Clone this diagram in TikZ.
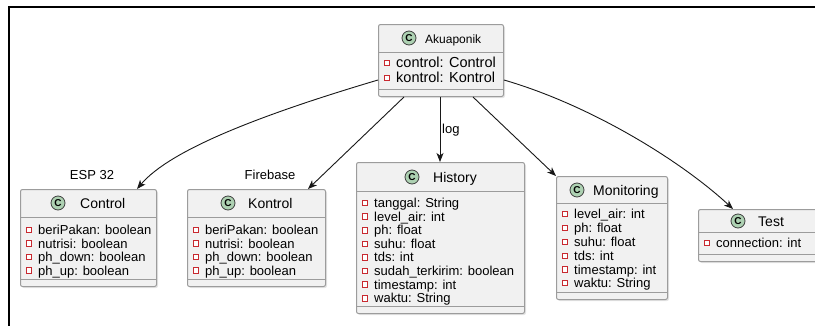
\documentclass[tikz,border=0pt]{standalone}
\usepackage{fontspec}
\setmainfont{Liberation Sans}
\usetikzlibrary{arrows.meta,calc}

\definecolor{boxfill}{HTML}{F1F1F1}
\definecolor{boxline}{HTML}{9C9C9C}
\definecolor{iconfill}{HTML}{ADD1B2}
\definecolor{fieldred}{HTML}{C82930}
\definecolor{linkcol}{HTML}{181818}

\tikzset{
  classbox/.style={draw=boxline, fill=boxfill, line width=1pt, rectangle,
    rounded corners=2pt, inner sep=0pt, anchor=north west},
  boxshadow/.style={fill=black, opacity=0.10, rounded corners=2pt},
  sepline/.style={draw=boxline, line width=1pt},
  cicon/.style={circle, draw=black!75, line width=0.8pt, fill=iconfill,
    minimum size=14pt, inner sep=0pt, font=\fontsize{10}{10}\selectfont\bfseries},
  titletext/.style={inner sep=0pt, font=\fontsize{14}{14}\selectfont, anchor=base west},
  fieldicon/.style={rectangle, draw=fieldred, fill=white, line width=0.9pt,
    minimum size=5.5pt, inner sep=0pt},
  fieldtext/.style={inner sep=0pt, font=\fontsize{13}{13}\selectfont, anchor=base west},
  bigfield/.style={fieldtext, font=\fontsize{14.5}{14.5}\selectfont},
  lbl/.style={inner sep=0pt, font=\fontsize{13}{13}\selectfont},
  link/.style={draw=linkcol, line width=0.9pt,
    -{Stealth[length=9pt,width=7pt,inset=2.5pt]}},
}

% class frame: name, left, top, right, bottom, header rule, bottom rule
\newcommand\umlclass[7]{%
  \fill[boxshadow] (#2+2,#3+2) rectangle (#4+2,#5+2);
  \node[classbox, minimum width={(#4-#2)*1pt}, minimum height={(#5-#3)*1pt}]
    (#1) at (#2,#3) {};
  \draw[sepline] (#2,#6) -- (#4,#6) (#2,#7) -- (#4,#7);
}
% class header: name, icon x, icon y, title x, title, title style
\newcommand\umltitle[6]{%
  \node[cicon] (#1-icon) at (#2,#3) {C};
  \node[titletext, #6] (#1-title) at (#4,#3+5) {#5};
}
% field row: node name, box left, row y, text, text style
\newcommand\umlfield[5]{%
  \node[fieldicon] (#1) at (#2+9,#3) {};
  \node[#5] (#1-t) at (#2+18,#3+4.5) {#4};
}

\begin{document}
\begin{tikzpicture}[x=1pt,y=-1pt]
\useasboundingbox (0,0) rectangle (815,325);
\clip (0,0) rectangle (815,325);
\fill[white] (0,0) rectangle (815,325);

% outer frame
\draw[line width=1.5pt] (9,330) -- (9,7) -- (820,7);

% Akuaponik
\umlclass{ak}{378}{24}{503}{96}{52}{89}
\umltitle{ak}{409}{38}{425}{Akuaponik}{font=\fontsize{12}{12}\selectfont}
\umlfield{ak-f1}{378}{63}{control: Control}{bigfield}
\umlfield{ak-f2}{378}{78}{kontrol: Kontrol}{bigfield}

% Control
\umlclass{ctl}{20}{189}{156}{286}{217}{279}
\umltitle{ctl}{58}{203}{80}{Control}{}
\umlfield{ctl-f1}{20}{230}{beriPakan: boolean}{fieldtext}
\umlfield{ctl-f2}{20}{243.5}{nutrisi: boolean}{fieldtext}
\umlfield{ctl-f3}{20}{257}{ph\_down: boolean}{fieldtext}
\umlfield{ctl-f4}{20}{270.5}{ph\_up: boolean}{fieldtext}

% Kontrol
\umlclass{kon}{187}{189}{325}{286}{217}{279}
\umltitle{kon}{228}{203}{248}{Kontrol}{}
\umlfield{kon-f1}{187}{230}{beriPakan: boolean}{fieldtext}
\umlfield{kon-f2}{187}{243.5}{nutrisi: boolean}{fieldtext}
\umlfield{kon-f3}{187}{257}{ph\_down: boolean}{fieldtext}
\umlfield{kon-f4}{187}{270.5}{ph\_up: boolean}{fieldtext}

% History
\umlclass{his}{356}{162}{524}{313}{191}{306}
\umltitle{his}{412}{177}{433}{History}{}
\umlfield{his-f1}{356}{203}{tanggal: String}{fieldtext}
\umlfield{his-f2}{356}{216.6}{level\_air: int}{fieldtext}
\umlfield{his-f3}{356}{230.2}{ph: float}{fieldtext}
\umlfield{his-f4}{356}{243.8}{suhu: float}{fieldtext}
\umlfield{his-f5}{356}{257.4}{tds: int}{fieldtext}
\umlfield{his-f6}{356}{271}{sudah\_terkirim: boolean}{fieldtext}
\umlfield{his-f7}{356}{284.6}{timestamp: int}{fieldtext}
\umlfield{his-f8}{356}{298.2}{waktu: String}{fieldtext}

% Monitoring
\umlclass{mon}{556}{176}{667}{299}{203}{292}
\umltitle{mon}{577}{190}{593}{Monitoring}{}
\umlfield{mon-f1}{556}{214}{level\_air: int}{fieldtext}
\umlfield{mon-f2}{556}{228}{ph: float}{fieldtext}
\umlfield{mon-f3}{556}{242}{suhu: float}{fieldtext}
\umlfield{mon-f4}{556}{256}{tds: int}{fieldtext}
\umlfield{mon-f5}{556}{269.5}{timestamp: int}{fieldtext}
\umlfield{mon-f6}{556}{283}{waktu: String}{fieldtext}

% Test
\umlclass{tst}{698}{209}{826}{261}{232}{254}
\umltitle{tst}{738}{221}{758}{Test}{}
\umlfield{tst-f1}{698}{243}{connection: int}{fieldtext}

% association labels
\node[lbl] (esp) at (92,175) {ESP 32};
\node[lbl] (fb) at (270,175) {Firebase};
\node[lbl, anchor=west] (loglbl) at (442,130) {log};

% associations
\draw[link] ($(ak.north west)+(0,56)$)
  .. controls (260,115) and (170,150) .. ($(ctl.north west)+(117,0)$);
\draw[link] ($(ak.south west)+(26,0)$) -- ($(kon.north west)+(121,0)$);
\draw[link] ($(ak.south west)+(62,0)$) -- ($(his.north west)+(84,0)$);
\draw[link] ($(ak.south west)+(95,0)$) -- (mon.north west);
\draw[link] ($(ak.north east)+(0,56)$)
  .. controls (590,105) and (680,160) .. ($(tst.north west)+(35,0)$);
\end{tikzpicture}
\end{document}
